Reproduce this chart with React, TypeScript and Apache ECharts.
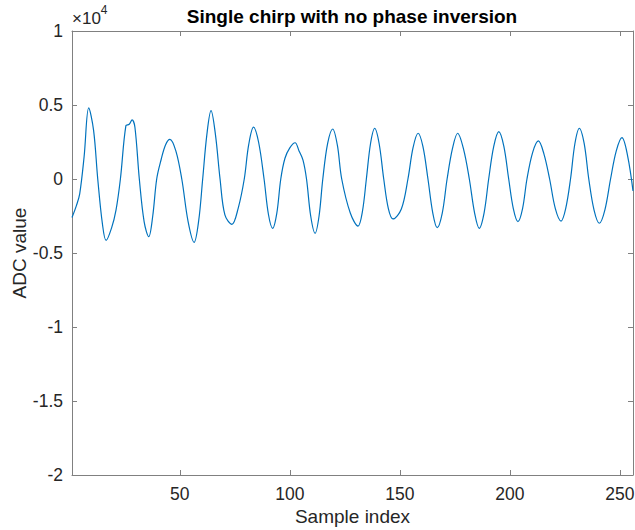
import React, { useEffect, useRef } from "react";
import * as echarts from "echarts";

const TITLE = "Single chirp with no phase inversion";
const X_NAME = "Sample index";
const Y_NAME = "ADC value";
const X_TICKS = [50, 100, 150, 200, 250];
const Y_TICK_LABELS = ["-2", "-1.5", "-1", "-0.5", "0", "0.5", "1"];

// sample index
const SAMPLE_IDX = [
  1, 3, 4.5, 6.5, 8.6, 10.8, 12.7, 14.8, 16.5, 19, 21, 23, 25.5, 27, 28.3, 29.6, 31.6, 33.8, 35.9, 37.7, 39.5, 41.5, 43.5,
  45.5, 48.2, 50.9, 53.8, 56.5, 58.6, 60.4, 62.3, 64.2, 66.2, 68.3, 70.5, 73.7, 76.5, 79.3, 81.3, 83.5, 85.8, 88.3, 90.3, 92.2,
  94.1, 95.9, 97.8, 100, 102.4, 104.2, 106, 107.6, 109.5, 111.5, 113.3, 115, 117.2, 119.5, 121.6, 123.6, 127.5, 131, 133,
  134.8, 136.7, 138.6, 140.6, 142.7, 144.8, 146.9, 150.7, 153.7, 156, 158.3, 160.5, 162.8, 165, 167, 169.3, 171.5, 174, 176.3,
  179, 181.6, 184, 186.1, 188.3, 190.4, 192.7, 195, 197.3, 199.5, 201.6, 203.7, 205.8, 207.8, 210.4, 213, 215.5, 218.1, 220.7,
  223.3, 225.4, 227.6, 229.6, 231.6, 233.8, 235.9, 238.3, 240.7, 243.2, 245.8, 248.4, 251, 253.5, 256,
];
// ADC values
const ADC_VALUES = [
  -2600, -1800, -1000, 1500, 4800, 3300, 0, -3000, -4150, -3300, -2100, 0, 3600, 3700, 4000, 3500, 0, -2900, -3900, -2500, 0,
  1300, 2300, 2680, 1900, 0, -2900, -4280, -2800, 0, 3000, 4620, 3000, 0, -2430, -3060, -2000, 0, 2300, 3500, 2500, 0, -2400,
  -3330, -2300, 0, 1400, 2100, 2450, 1900, 1280, 0, -2500, -3670, -2500, 0, 2400, 3380, 2300, 0, -2300, -3180, -2200, 0, 2400,
  3430, 2400, 0, -2000, -2700, -2030, 0, 2100, 3090, 2200, 0, -2300, -3290, -2300, 0, 2100, 3090, 2000, 0, -2300, -3330, -2300,
  0, 2200, 3200, 2200, 0, -2000, -2880, -2000, 0, 1800, 2570, 1700, 0, -2000, -2840, -2000, 0, 2400, 3430, 2400, 0, -2100,
  -2990, -2100, 0, 1900, 2790, 1600, -800,
];

const AXIS_COLOR = "#808080";
const TEXT_COLOR = "#262626";
const FONT = "'Liberation Sans', Arial, Helvetica, sans-serif";

export default function App() {
  const ref = useRef<HTMLDivElement>(null);
  useEffect(() => {
    if (!ref.current) return;
    const chart = echarts.init(ref.current, undefined, { renderer: "svg" });
    const data = SAMPLE_IDX.map((s, i) => [s, ADC_VALUES[i]]);
    const yLabel = (v: number) => {
      const idx = Math.round((v + 20000) / 5000);
      return Y_TICK_LABELS[idx] ?? "";
    };
    const boxLine = { show: true, onZero: false, lineStyle: { color: AXIS_COLOR, width: 1 } };
    chart.setOption({
      animation: false,
      backgroundColor: "#ffffff",
      textStyle: { fontFamily: FONT },
      title: {
        text: TITLE,
        left: 347,
        top: 2,
        textAlign: "center",
        textStyle: { fontFamily: FONT, fontSize: 19, fontWeight: "bold", color: "#000" },
      },
      graphic: [
        {
          type: "text",
          left: 72,
          top: 4,
          style: {
            text: "{a|×10}{b|4}",
            rich: {
              a: { fontFamily: FONT, fontSize: 17, fill: TEXT_COLOR, padding: [6, 0, 0, 0] },
              b: { fontFamily: FONT, fontSize: 12, fill: TEXT_COLOR, verticalAlign: "top" },
            },
          },
        },
      ],
      grid: { left: 72, right: 2, top: 31, bottom: 55, containLabel: false, outerBoundsMode: "none" },
      xAxis: [
        {
          type: "value",
          min: 1,
          max: 256,
          name: X_NAME,
          nameLocation: "middle",
          nameGap: 32,
          nameMoveOverlap: false,
          nameTextStyle: { fontFamily: FONT, fontSize: 19, color: TEXT_COLOR },
          axisLine: boxLine,
          axisTick: { show: true, inside: true, length: 5, customValues: X_TICKS, lineStyle: { color: AXIS_COLOR } },
          axisLabel: { customValues: X_TICKS, fontFamily: FONT, fontSize: 17.5, color: TEXT_COLOR, margin: 10 },
          splitLine: { show: false },
        },
        {
          type: "value",
          position: "top",
          min: 1,
          max: 256,
          axisLine: boxLine,
          axisTick: { show: true, inside: true, length: 5, customValues: X_TICKS, lineStyle: { color: AXIS_COLOR } },
          axisLabel: { show: false },
          splitLine: { show: false },
        },
      ],
      yAxis: [
        {
          type: "value",
          min: -20000,
          max: 10000,
          interval: 5000,
          name: Y_NAME,
          nameLocation: "middle",
          nameGap: 43,
          nameMoveOverlap: false,
          nameTextStyle: { fontFamily: FONT, fontSize: 19, color: TEXT_COLOR },
          axisLine: boxLine,
          axisTick: { show: true, inside: true, length: 5, lineStyle: { color: AXIS_COLOR } },
          axisLabel: { formatter: yLabel, fontFamily: FONT, fontSize: 17.5, color: TEXT_COLOR, margin: 9 },
          splitLine: { show: false },
        },
        {
          type: "value",
          position: "right",
          min: -20000,
          max: 10000,
          interval: 5000,
          axisLine: boxLine,
          axisTick: { show: true, inside: true, length: 5, lineStyle: { color: AXIS_COLOR } },
          axisLabel: { show: false },
          splitLine: { show: false },
        },
      ],
      series: [
        {
          type: "line",
          data,
          xAxisIndex: 0,
          yAxisIndex: 0,
          smooth: 0.35,
          showSymbol: false,
          symbol: "none",
          lineStyle: { color: "#0072BD", width: 1.2 },
        },
      ],
    });
    return () => chart.dispose();
  }, []);
  return (
    <div
      ref={ref}
      style={{ position: "fixed", left: 0, top: 0, width: 635, height: 530, background: "#fff" }}
    />
  );
}
